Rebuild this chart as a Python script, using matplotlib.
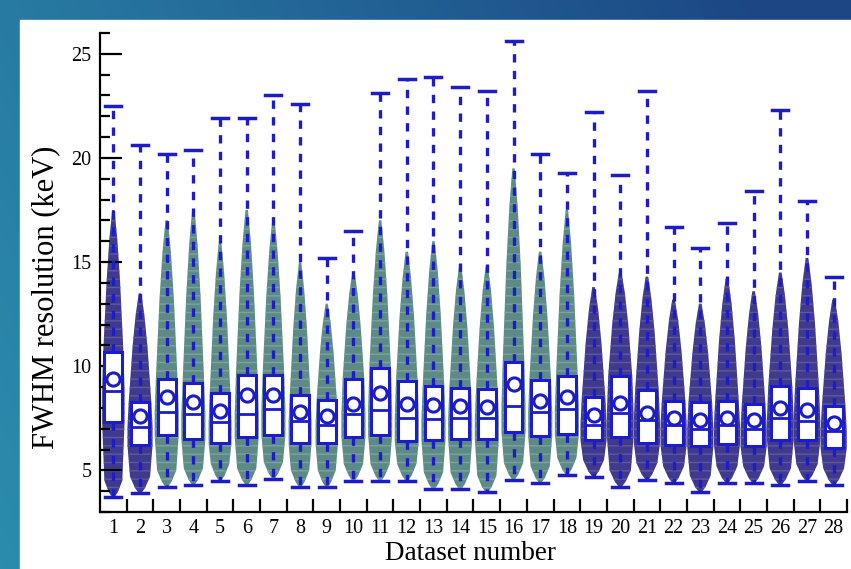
import numpy as np
import matplotlib
matplotlib.use("Agg")
from matplotlib import pyplot as plt
from matplotlib.ticker import MultipleLocator, FixedLocator

# values (keV)
datasets = list(range(1, 29))
whisk_hi = [22.5, 20.6, 20.2, 20.4, 21.9, 21.9, 23.0, 22.6, 15.2, 16.5, 23.1, 23.8, 23.9, 23.4,
            23.2, 25.6, 20.2, 19.3, 22.2, 19.2, 23.2, 16.7, 15.7, 16.9, 18.4, 22.3, 17.95, 14.3]
whisk_lo = [3.7, 3.9, 4.2, 4.3, 4.5, 4.3, 4.6, 4.2, 4.2, 4.5, 4.5, 4.5, 4.1, 4.1,
            3.95, 4.55, 4.4, 4.8, 4.7, 4.2, 4.55, 4.4, 3.95, 4.4, 4.4, 4.3, 4.5, 4.3]
q3 = [10.7, 8.3, 9.4, 9.2, 8.7, 9.6, 9.6, 8.6, 8.4, 9.4, 9.9, 9.3, 9.05, 8.95,
      8.9, 10.2, 9.35, 9.55, 8.5, 9.55, 8.85, 8.35, 8.3, 8.35, 8.2, 9.05, 8.95, 8.1]
q1 = [7.3, 6.2, 6.7, 6.5, 6.3, 6.6, 6.7, 6.3, 6.3, 6.6, 6.7, 6.4, 6.45, 6.5,
      6.5, 6.85, 6.65, 6.75, 6.45, 6.6, 6.3, 6.2, 6.15, 6.25, 6.15, 6.45, 6.45, 6.05]
medians = [8.8, 7.1, 7.8, 7.7, 7.3, 7.7, 7.95, 7.35, 7.2, 7.7, 7.9, 7.5, 7.45, 7.5,
           7.5, 8.1, 7.8, 7.95, 7.2, 7.75, 7.4, 7.2, 7.0, 7.2, 7.0, 7.5, 7.35, 6.9]
means = [9.4, 7.6, 8.5, 8.3, 7.85, 8.6, 8.6, 7.8, 7.6, 8.2, 8.7, 8.2, 8.15, 8.1,
         8.05, 9.15, 8.35, 8.5, 7.65, 8.25, 7.75, 7.5, 7.4, 7.5, 7.4, 8.0, 7.9, 7.25]
# where the scattered point cloud thins out, and its widest half width
cloud_top = [17.5, 13.5, 17.0, 17.5, 16.0, 17.5, 17.0, 15.0, 13.0, 14.5, 17.0, 15.5, 16.0, 14.8,
             14.8, 19.5, 15.5, 17.5, 13.8, 14.5, 14.3, 13.2, 13.0, 14.2, 13.6, 14.5, 15.2, 13.2]
cloud_half = [0.42, 0.47, 0.45, 0.45, 0.43, 0.45, 0.45, 0.43, 0.42, 0.45, 0.45, 0.45, 0.45, 0.45,
              0.45, 0.45, 0.45, 0.45, 0.49, 0.5, 0.49, 0.49, 0.49, 0.49, 0.49, 0.5, 0.5, 0.49]
green_sets = list(range(3, 19))

blue = "#1c1cc8"
green = "#5c8b86"
navy = "#403a8c"

fig = plt.figure(figsize=(8.51, 5.69), dpi=100)

# slide background + white panel
bg = fig.add_axes([0, 0, 1, 1])
gx = np.linspace(0, 1, 200)
gy = np.linspace(0, 1, 200)
GX, GY = np.meshgrid(gx, gy)
c_left = np.array([0.17, 0.55, 0.68])
c_right = np.array([0.11, 0.28, 0.52])
t = np.clip(GX * 0.85 + (1 - GY) * 0.25, 0, 1)[..., None]
img = c_left * (1 - t) + c_right * t
bg.imshow(img, extent=[0, 1, 0, 1], aspect="auto", origin="upper")
bg.add_patch(plt.Rectangle((20 / 851, 0), 1, 1 - 20 / 569, color="white"))
bg.set_xlim(0, 1)
bg.set_ylim(0, 1)
bg.axis("off")

ax = fig.add_axes([100 / 851, 1 - 512 / 569, 747 / 851, 479 / 569])
ax.patch.set_alpha(0)

# point clouds
for i, d in enumerate(datasets):
    col = green if d in green_sets else navy
    lo, a, m, b, top = whisk_lo[i], q1[i], medians[i], q3[i], cloud_top[i]
    h = cloud_half[i]
    ys = [lo, lo + 0.25, lo + 0.8, a, m, b, (b + top) / 2, top - (top - b) / 5, top]
    ws = [0.1, 0.4, 0.8, 1.0, 1.0, 0.9, 0.6, 0.35, 0.1]
    ws = [w * h for w in ws]
    ax.fill_betweenx(ys, [d - w for w in ws], [d + w for w in ws], facecolor=col,
                     edgecolor="#7fa19d" if col == green else "#5d58a3", hatch="--",
                     lw=0, zorder=1)

stats = []
for i, d in enumerate(datasets):
    stats.append({"med": medians[i], "q1": q1[i], "q3": q3[i], "whislo": whisk_lo[i],
                  "whishi": whisk_hi[i], "mean": means[i], "fliers": []})

ax.bxp(stats, positions=datasets, widths=0.67, showmeans=True, patch_artist=True,
       boxprops=dict(facecolor="white", edgecolor=blue, linewidth=2.2),
       medianprops=dict(color=blue, linewidth=2.0),
       whiskerprops=dict(color=blue, linewidth=2.4, linestyle=(0, (2.5, 2.5))),
       capprops=dict(color=blue, linewidth=2.5),
       capwidths=0.6,
       meanprops=dict(marker="o", markersize=9.5, markerfacecolor="none",
                      markeredgecolor=blue, markeredgewidth=2.2),
       zorder=3)

ax.set_xlim(0.5, 28.5)
ax.set_ylim(3, 26)

for s in ["top", "right"]:
    ax.spines[s].set_visible(False)
for s in ["left", "bottom"]:
    ax.spines[s].set_linewidth(1.6)

ax.set_xticks(datasets)
ax.set_xticklabels([str(d) for d in datasets])
ax.xaxis.set_minor_locator(FixedLocator(np.arange(1.5, 28.6, 1)))
ax.tick_params(axis="x", which="major", length=0, pad=5, labelsize=14.5)
ax.tick_params(axis="x", which="minor", length=9.5, width=1.6, direction="in")
ax.yaxis.set_major_locator(MultipleLocator(5))
ax.yaxis.set_minor_locator(MultipleLocator(1))
ax.tick_params(axis="y", which="major", length=16, width=1.6, direction="in", pad=6, labelsize=14.5)
ax.tick_params(axis="y", which="minor", length=7.5, width=1.6, direction="in")

for lab in ax.get_xticklabels() + ax.get_yticklabels():
    lab.set_family("Liberation Serif")

fig.text(46 / 851, 1 - 297 / 569, "FWHM resolution (keV)", rotation=90, ha="center", va="center",
         family="Liberation Serif", fontsize=22)
fig.text(470 / 851, 1 - 554 / 569, "Dataset number", ha="center", va="center",
         family="Liberation Serif", fontsize=19.5)

fig.savefig("out.png", dpi=100)
